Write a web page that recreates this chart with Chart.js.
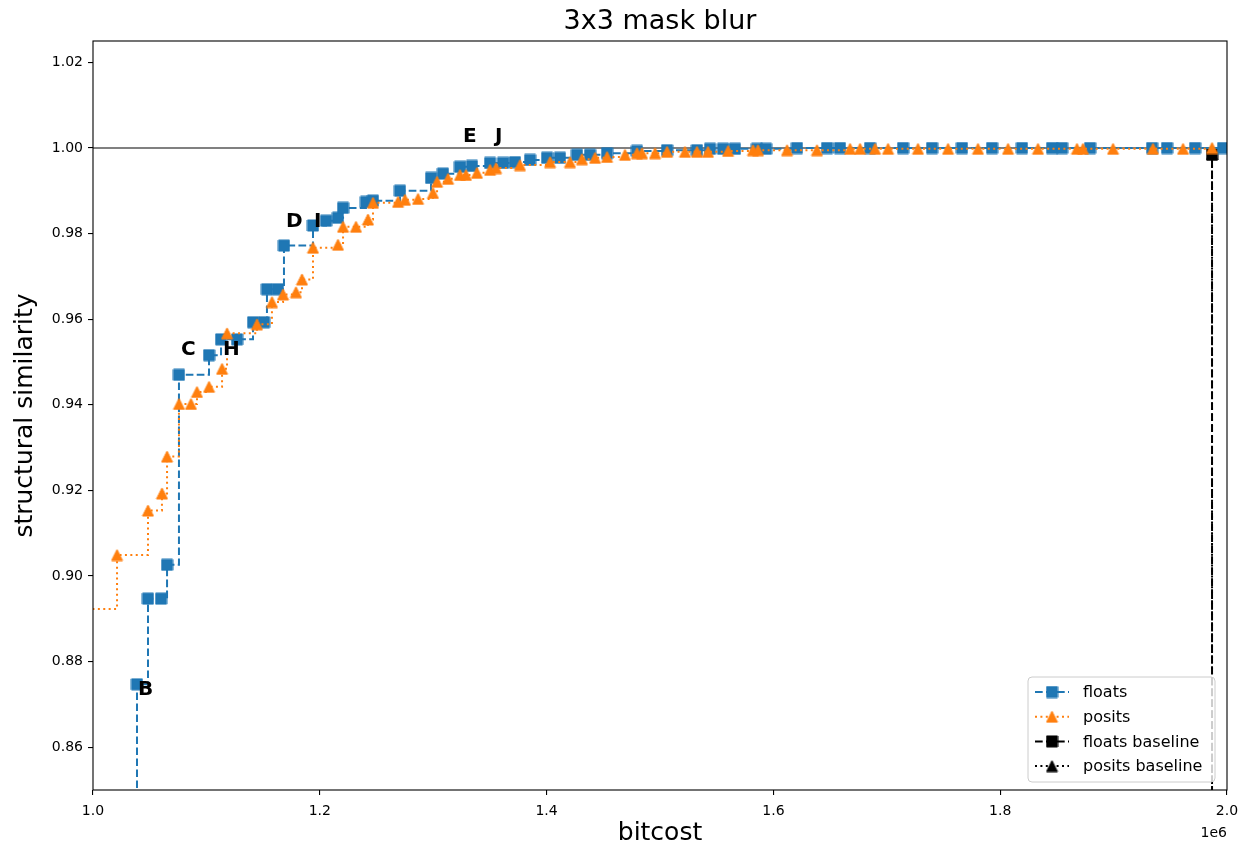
<!DOCTYPE html>
<html>
<head>
<meta charset="utf-8">
<title>3x3 mask blur</title>
<script src="https://cdn.jsdelivr.net/npm/chart.js@4.4.1/dist/chart.umd.min.js"></script>
<style>
    html, body { margin: 0; padding: 0; background: #ffffff; }
    #wrap { width: 1239px; height: 848px; }
</style>
</head>
<body>
<div id="wrap"><canvas id="chart"></canvas></div>
<script>
        // Data (bitcost in units of 1e6)
        const floatsCost = [1.020, 1.0388, 1.0485, 1.0600, 1.0653, 1.0758, 1.1023, 1.1129, 1.1270, 1.1411, 1.1508,
            1.1534, 1.1631, 1.1684, 1.1940, 1.2055, 1.2160, 1.2205, 1.2407, 1.2469, 1.2707, 1.2981, 1.3086,
            1.3236, 1.3342, 1.3501, 1.3616, 1.3721, 1.3854, 1.4004, 1.4118, 1.4268, 1.4383, 1.4533, 1.4797,
            1.5062, 1.5326, 1.5441, 1.5556, 1.5661, 1.5855, 1.5935, 1.6208, 1.6473, 1.6587, 1.6852, 1.7143,
            1.7399, 1.7663, 1.7928, 1.8192, 1.8457, 1.8545, 1.8792, 1.9339, 1.9471, 1.9718, 1.9965];
        const floatsSsim = [0.840, 0.8747, 0.8947, 0.8947, 0.9026, 0.9470, 0.9516, 0.9553, 0.9553, 0.9593, 0.9593,
            0.9670, 0.9670, 0.9772, 0.9819, 0.9830, 0.9837, 0.9860, 0.9874, 0.9877, 0.9900, 0.9930, 0.9940,
            0.9956, 0.9958, 0.9965, 0.9965, 0.9967, 0.9972, 0.9977, 0.9977, 0.9984, 0.9984, 0.9988, 0.9993,
            0.9995, 0.9995, 0.9998, 0.9998, 0.9998, 0.9998, 0.9998, 1.0, 1.0, 1.0, 1.0, 1.0,
            1.0, 1.0, 1.0, 1.0, 1.0, 1.0, 1.0, 1.0, 1.0, 1.0, 1.0];

        const positsCost = [0.990, 1.0212, 1.0485, 1.0608, 1.0653, 1.0758, 1.0864, 1.0917, 1.1023, 1.1138, 1.1182,
            1.1446, 1.1578, 1.1676, 1.1790, 1.1843, 1.1940, 1.2160, 1.2205, 1.2319, 1.2425, 1.2469, 1.2690,
            1.2751, 1.2866, 1.2998, 1.3034, 1.3131, 1.3236, 1.3289, 1.3386, 1.3501, 1.3554, 1.3765, 1.4030,
            1.4206, 1.4312, 1.4427, 1.4533, 1.4691, 1.4797, 1.4841, 1.4956, 1.5062, 1.5220, 1.5326, 1.5423,
            1.5600, 1.5820, 1.5864, 1.6120, 1.6384, 1.6676, 1.6764, 1.6896, 1.7011, 1.7275, 1.7540, 1.7804,
            1.8069, 1.8333, 1.8677, 1.8730, 1.8995, 1.9347, 1.9612, 1.9868];
        const positsSsim = [0.8923, 0.9049, 0.9153, 0.9193, 0.9279, 0.9402, 0.9402, 0.9430, 0.9442, 0.9484, 0.9567,
            0.9588, 0.9640, 0.9658, 0.9663, 0.9693, 0.9767, 0.9774, 0.9816, 0.9816, 0.9833, 0.9872, 0.9874,
            0.9879, 0.9881, 0.9895, 0.9921, 0.9928, 0.9937, 0.9937, 0.9942, 0.9949, 0.9953, 0.9960, 0.9967,
            0.9967, 0.9974, 0.9977, 0.9979, 0.9984, 0.9988, 0.9988, 0.9988, 0.9991, 0.9991, 0.9991, 0.9991,
            0.9993, 0.9995, 0.9995, 0.9995, 0.9995, 0.9998, 0.9998, 0.9998, 0.9998, 0.9998, 0.9998, 0.9998,
            0.9998, 0.9998, 0.9998, 0.9998, 0.9998, 0.9998, 0.9998, 1.0];

        const baselineCost = [1.9868, 1.9868];
        const baselineSsim = [0.80, 0.9985];

        const refCost = [1.0, 2.0];
        const refSsim = [1.0, 1.0];

        const letterNames = ['B', 'C', 'H', 'D', 'I', 'E', 'J'];
        const letterCost = [1.0397, 1.0776, 1.1146, 1.1702, 1.1949, 1.3263, 1.3545];
        const letterSsim = [0.8723, 0.9516, 0.9516, 0.9816, 0.9816, 1.0014, 1.0014];

        const xTicks = [1.0, 1.2, 1.4, 1.6, 1.8, 2.0];
        const yTicks = [0.86, 0.88, 0.90, 0.92, 0.94, 0.96, 0.98, 1.00, 1.02];

        const legendLabels = ['floats', 'posits', 'floats baseline', 'posits baseline'];

        const BLUE = '#1f77b4';
        const ORANGE = '#ff7f0e';
        const FONT = "'DejaVu Sans', sans-serif";
        const DASHED = [7.7, 3.3];
        const DOTTED = [2, 3.4];

        function toPoints(cost, ssim) {
            return cost.map((c, i) => ({ x: c * 1e6, y: ssim[i] }));
        }

        // matplotlib style markers as small canvases
        function makeMarker(shape, color) {
            const c = document.createElement('canvas');
            c.width = 13;
            c.height = 13;
            const g = c.getContext('2d');
            g.fillStyle = color;
            g.strokeStyle = color;
            g.lineWidth = 1;
            g.beginPath();
            if (shape === 'square') {
                g.rect(1, 1, 11, 11);
            } else {
                g.moveTo(6.5, 1);
                g.lineTo(12, 12);
                g.lineTo(1, 12);
                g.closePath();
            }
            g.fill();
            g.stroke();
            return c;
        }

        const markers = {
            blueSquare: makeMarker('square', BLUE),
            orangeTri: makeMarker('triangle', ORANGE),
            blackSquare: makeMarker('square', '#000000'),
            blackTri: makeMarker('triangle', '#000000')
        };

        // title, frame, letters, 1e6 offset and legend
        const extrasPlugin = {
            id: 'extras',
            afterDatasetsDraw(chart) {
                const ctx = chart.ctx;
                const a = chart.chartArea;
                const xs = chart.scales.x;
                const ys = chart.scales.y;

                ctx.save();
                ctx.fillStyle = '#000000';
                ctx.font = '27px ' + FONT;
                ctx.textAlign = 'center';
                ctx.textBaseline = 'middle';
                ctx.fillText('3x3 mask blur', (a.left + a.right) / 2, 22);

                ctx.strokeStyle = '#000000';
                ctx.lineWidth = 1.1;
                ctx.strokeRect(a.left, a.top, a.right - a.left, a.bottom - a.top);

                // point labels
                ctx.font = 'bold 20px ' + FONT;
                ctx.textAlign = 'left';
                ctx.textBaseline = 'alphabetic';
                letterNames.forEach((name, i) => {
                    ctx.fillText(name, xs.getPixelForValue(letterCost[i] * 1e6), ys.getPixelForValue(letterSsim[i]));
                });

                // offset text
                ctx.font = '14px ' + FONT;
                ctx.textAlign = 'right';
                ctx.fillText('1e6', a.right, a.bottom + 47);

                // legend
                const bx = 1028, by = 677, bw = 187, bh = 105;
                ctx.beginPath();
                ctx.roundRect(bx, by, bw, bh, 4);
                ctx.fillStyle = 'rgba(255,255,255,0.8)';
                ctx.fill();
                ctx.strokeStyle = '#cccccc';
                ctx.lineWidth = 1;
                ctx.stroke();

                const rows = [
                    { color: BLUE, dash: DASHED, marker: markers.blueSquare },
                    { color: ORANGE, dash: DOTTED, marker: markers.orangeTri },
                    { color: '#000000', dash: DASHED, marker: markers.blackSquare },
                    { color: '#000000', dash: DOTTED, marker: markers.blackTri }
                ];
                ctx.font = '16px ' + FONT;
                ctx.textAlign = 'left';
                ctx.textBaseline = 'middle';
                rows.forEach((r, i) => {
                    const yy = 692 + i * 24.7;
                    ctx.beginPath();
                    ctx.setLineDash(r.dash);
                    ctx.strokeStyle = r.color;
                    ctx.lineWidth = 2;
                    ctx.moveTo(1035, yy);
                    ctx.lineTo(1069, yy);
                    ctx.stroke();
                    ctx.setLineDash([]);
                    ctx.drawImage(r.marker, 1052 - 6.5, yy - 6.5);
                    ctx.fillStyle = '#000000';
                    ctx.fillText(legendLabels[i], 1083, yy + 1);
                });
                ctx.restore();
            }
        };

        function initChart() {
            const ctx = document.getElementById('chart').getContext('2d');
            new Chart(ctx, {
                type: 'line',
                data: {
                    datasets: [
                        {
                            label: 'posits',
                            data: toPoints(positsCost, positsSsim),
                            borderColor: ORANGE,
                            borderWidth: 2,
                            borderDash: DOTTED,
                            stepped: 'before',
                            pointStyle: markers.orangeTri,
                            pointRadius: 6,
                            clip: 0,
                            order: 0
                        },
                        {
                            label: 'floats',
                            data: toPoints(floatsCost, floatsSsim),
                            borderColor: BLUE,
                            borderWidth: 2,
                            borderDash: DASHED,
                            stepped: 'before',
                            pointStyle: markers.blueSquare,
                            pointRadius: 6,
                            clip: 0,
                            order: 1
                        },
                        {
                            label: 'posits baseline',
                            data: toPoints(baselineCost, baselineSsim),
                            borderColor: '#000000',
                            borderWidth: 2,
                            borderDash: DOTTED,
                            stepped: 'before',
                            pointStyle: markers.blackTri,
                            pointRadius: 6,
                            clip: 0,
                            order: 2
                        },
                        {
                            label: 'floats baseline',
                            data: toPoints(baselineCost, baselineSsim),
                            borderColor: '#000000',
                            borderWidth: 2,
                            borderDash: DASHED,
                            stepped: 'before',
                            pointStyle: markers.blackSquare,
                            pointRadius: 6,
                            clip: 0,
                            order: 3
                        },
                        {
                            label: 'reference',
                            data: toPoints(refCost, refSsim),
                            borderColor: '#808080',
                            borderWidth: 2,
                            pointRadius: 0,
                            clip: 0,
                            order: 4
                        }
                    ]
                },
                options: {
                    responsive: true,
                    maintainAspectRatio: false,
                    animation: false,
                    layout: { padding: { left: 0, right: 12, top: 41, bottom: 0 } },
                    plugins: {
                        legend: { display: false },
                        tooltip: { enabled: false },
                        title: { display: false }
                    },
                    scales: {
                        x: {
                            type: 'linear',
                            min: 1e6,
                            max: 2e6,
                            afterFit: (scale) => {
                                scale.height = 58;
                                scale.paddingLeft = 0;
                                scale.paddingRight = 0;
                            },
                            afterBuildTicks: (scale) => {
                                scale.ticks = xTicks.map(v => ({ value: v * 1e6 }));
                            },
                            border: { display: false },
                            grid: { drawOnChartArea: false, drawTicks: true, tickLength: 5, color: '#000000', lineWidth: 1.1 },
                            ticks: {
                                color: '#000000',
                                font: { family: FONT, size: 14 },
                                padding: 8,
                                maxRotation: 0,
                                callback: (v) => (v / 1e6).toFixed(1)
                            },
                            title: {
                                display: true,
                                text: 'bitcost',
                                color: '#000000',
                                font: { family: FONT, size: 25 },
                                padding: { top: 0, bottom: 0 }
                            }
                        },
                        y: {
                            type: 'linear',
                            min: 0.85,
                            max: 1.025,
                            afterFit: (scale) => {
                                scale.width = 93;
                                scale.paddingTop = 0;
                                scale.paddingBottom = 0;
                            },
                            afterBuildTicks: (scale) => {
                                scale.ticks = yTicks.map(v => ({ value: v }));
                            },
                            border: { display: false },
                            grid: { drawOnChartArea: false, drawTicks: true, tickLength: 5, color: '#000000', lineWidth: 1.1 },
                            ticks: {
                                color: '#000000',
                                font: { family: FONT, size: 14 },
                                padding: 5,
                                callback: (v) => v.toFixed(2)
                            },
                            title: {
                                display: true,
                                text: 'structural similarity',
                                color: '#000000',
                                font: { family: FONT, size: 25 },
                                padding: { top: 10, bottom: 0 }
                            }
                        }
                    }
                },
                plugins: [extrasPlugin]
            });
        }

        document.addEventListener('DOMContentLoaded', initChart);
</script>
</body>
</html>
